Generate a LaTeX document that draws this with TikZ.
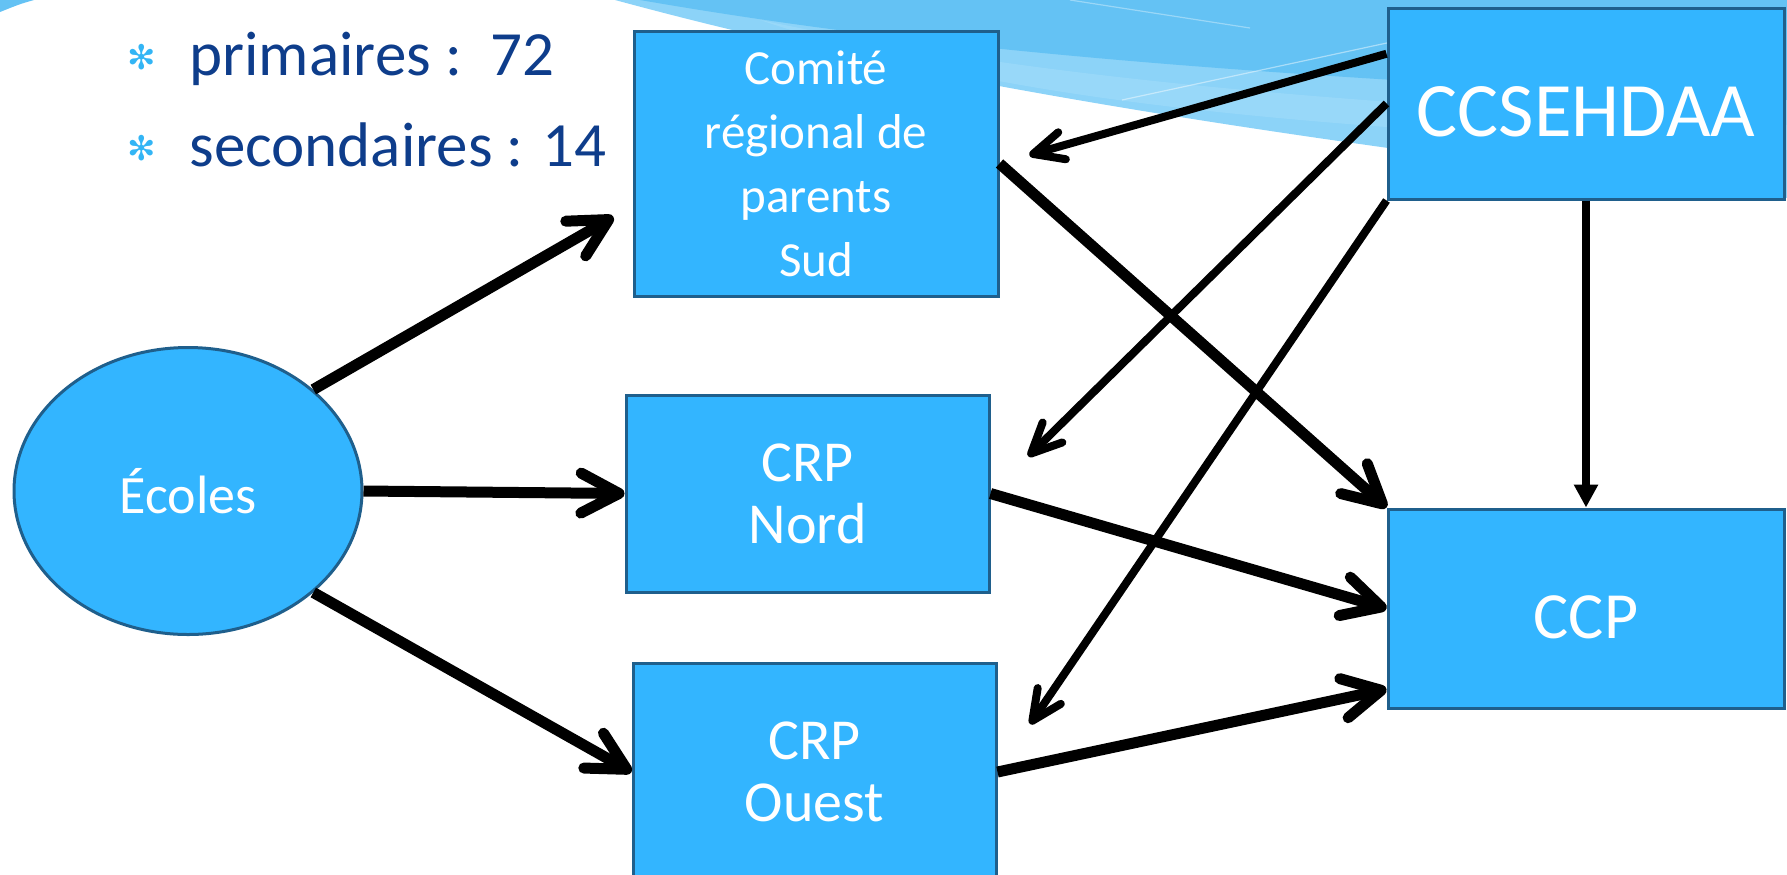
\documentclass[tikz,border=0pt]{standalone}
\usepackage{fontspec}
\setmainfont{Carlito}
\newfontfamily\symfont{DejaVu Sans}
\usepackage{xcolor}
\usepackage{tikz}
\usetikzlibrary{shapes.geometric, arrows.meta, calc}
\definecolor{boxblue}{RGB}{51,181,255}
\definecolor{boxline}{RGB}{31,95,140}
\definecolor{navytext}{RGB}{14,61,139}
\definecolor{starblue}{RGB}{51,181,245}
\definecolor{swooshA}{RGB}{140,211,248}
\definecolor{swooshB}{RGB}{100,194,244}
\definecolor{swooshC}{RGB}{165,222,250}
\tikzset{
    unitbox/.style = {rectangle, draw=boxline, line width=1.5pt, fill=boxblue,
        text=white, align=center, inner sep=0pt},
    school/.style = {ellipse, draw=boxline, line width=1.5pt, fill=boxblue,
        text=white, inner sep=0pt, minimum width=174pt, minimum height=143.5pt,
        font=\fontsize{27pt}{32pt}\selectfont},
    listtext/.style = {text=navytext, inner sep=0pt, anchor=base west,
        font=\fontsize{31.5pt}{38pt}\selectfont},
    starmark/.style = {text=starblue, inner sep=0pt,
        font=\symfont\fontsize{17pt}{17pt}\selectfont},
    bigarrow/.style = {line width=5.5pt, -{Straight Barb[length=19pt,width=20pt,round]}},
    thinarrow/.style = {line width=4pt, -{Straight Barb[length=15pt,width=14pt,round]}},
    droparrow/.style = {line width=4pt, -{Triangle[length=11.5pt,width=11.5pt]}},
}
\begin{document}
\begin{tikzpicture}[x=.5pt, y=-.5pt]
\useasboundingbox (0,0) rectangle (1787,874);
\clip (0,0) rectangle (1787,874);
\fill[swooshB] (0,0) -- (34,0) .. controls (20,4) .. (0,12) -- cycle;
\fill[swooshA] (615,0) .. controls (800,50) and (1100,120) .. (1787,198) -- (1787,0) -- cycle;
\fill[swooshB] (640,0) .. controls (900,45) and (1200,75) .. (1787,100) -- (1787,0) -- cycle;
\fill[swooshC, opacity=.5] (760,20) .. controls (1000,70) and (1250,100) .. (1787,125)
    -- (1787,150) .. controls (1250,125) and (1000,100) .. (760,20) -- cycle;
\draw[white, line width=.6pt, opacity=.35] (1070,0) -- (1250,28);
\draw[white, line width=.6pt, opacity=.45] (1122,100) -- (1540,10);

\node[starmark] (star1) at (142,57) {✻};
\node[starmark] (star2) at (142,148) {✻};
\node[listtext] (primaires) at (189,75) {primaires :~~72};
\node[listtext] (secondaires) at (189,166) {secondaires : 14};

\node[school] (ecoles) at (188,491) {Écoles};
\node[unitbox, minimum width=182pt, minimum height=132.5pt,
    font=\fontsize{24.5pt}{32pt}\selectfont] (comite) at (816,163.5) {Comité\\régional de\\parents\\Sud};
\node[unitbox, minimum width=181.5pt, minimum height=98.5pt,
    font=\fontsize{29pt}{31pt}\selectfont] (nord) at (807.5,493.5) {CRP\\Nord};
\node[unitbox, minimum width=181.5pt, minimum height=109pt,
    font=\fontsize{29pt}{31pt}\selectfont] (ouest) at (814.5,772) {CRP\\Ouest};
\node[unitbox, minimum width=198pt, minimum height=95.5pt, text height=32.8pt, text depth=0pt,
    font=\fontsize{38.5pt}{44pt}\selectfont] (ccse) at (1586,103.5) {CCSEHDAA};
\node[unitbox, minimum width=198pt, minimum height=99.5pt, text height=30.3pt, text depth=0pt,
    font=\fontsize{33pt}{38pt}\selectfont] (ccp) at (1586,608.5) {CCP};

\draw[bigarrow, shorten >=11pt] (ecoles.39) -- (comite.193);
\draw[bigarrow] (ecoles.east) -- (nord.west);
\draw[bigarrow] (ecoles.-39) -- (ouest.west);
\draw[bigarrow] (comite.east) -- (ccp.north west);
\draw[bigarrow] (nord.east) -- (ccp.west);
\draw[bigarrow] (ouest.east) -- (ccp.202);

\draw[thinarrow, shorten >=15.5pt] (ccse.166) -- (comite.east);
\draw[thinarrow, shorten >=26.5pt] (ccse.west) -- (nord.east);
\draw[thinarrow, shorten >=29pt] (ccse.south west) -- (ouest.east);
\draw[droparrow] (ccse.south) -- (ccp.north);
\end{tikzpicture}
\end{document}
